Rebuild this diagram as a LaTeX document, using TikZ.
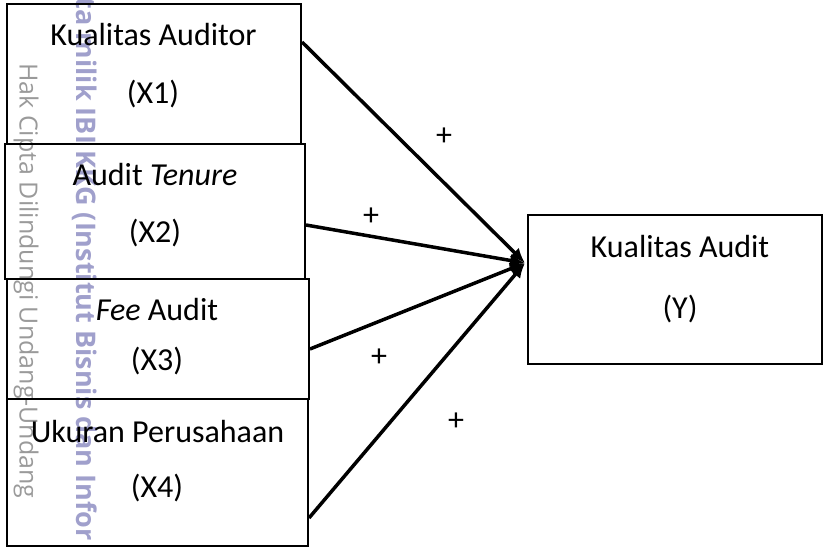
\documentclass[tikz,border=0pt]{standalone}
\usepackage{fontspec}
\setmainfont{Carlito}
\newfontfamily\wmfont{Open Sans}
\usetikzlibrary{arrows.meta}

\definecolor{wmgray}{HTML}{9A9A9A}
\definecolor{wmblue}{HTML}{A0A0CC}

\begin{document}
\begin{tikzpicture}[x=1pt,y=-1pt,
    varbox/.style={draw, line width=2pt, inner sep=0pt},
    lbl/.style={anchor=base, font=\fontsize{32}{38}\selectfont},
    arr/.style={line width=3.5pt, -{Latex[length=15pt,width=13pt]}},
    sign/.style={font=\fontsize{32}{38}\selectfont}]

        \useasboundingbox (0,0) rectangle (823,547);

        % Watermark
        \begin{scope}
            \clip (0,0) rectangle (823,547);
            \node[wmgray, rotate=-90, anchor=west, inner sep=0pt, font=\wmfont\fontsize{25}{30}\selectfont] (wmleft) at (26,63) {Hak Cipta Dilindungi Undang-Undang};
            \node[wmblue, rotate=-90, anchor=east, inner sep=0pt, font=\wmfont\bfseries\fontsize{27}{32}\selectfont] (wmright) at (84,541) {pta milik IBI KKG (Institut Bisnis dan Infor};
        \end{scope}

        % Independent variables
        \node[varbox, minimum width=294pt, minimum height=140pt] (x1) at (154,74) {};
        \node[varbox, minimum width=300pt, minimum height=135pt] (x2) at (155,211.5) {};
        \node[varbox, minimum width=302pt, minimum height=120pt] (x3) at (158,339) {};
        \node[varbox, minimum width=301pt, minimum height=147pt] (x4) at (157.5,472.5) {};

        \node[lbl] (x1name) at (153.5,45) {Kualitas Auditor};
        \node[lbl] (x1code) at (153,103) {(X1)};
        \node[lbl] (x2name) at (155,185) {Audit \textit{Tenure}};
        \node[lbl] (x2code) at (155,242) {(X2)};
        \node[lbl] (x3name) at (157,320) {\textit{Fee} Audit};
        \node[lbl] (x3code) at (157,370) {(X3)};
        \node[lbl] (x4name) at (157.5,442) {Ukuran Perusahaan};
        \node[lbl] (x4code) at (157,497) {(X4)};

        % Dependent variable
        \node[varbox, minimum width=294pt, minimum height=149pt] (y) at (675,289.5) {};
        \node[lbl] (yname) at (680,257) {Kualitas Audit};
        \node[lbl] (ycode) at (680,318) {(Y)};

        % Arrows
        \coordinate (hub) at (525,263);
        \draw[arr] (x1.east |- 0,42) -- (hub);
        \draw[arr] (x2.east |- 0,225) -- (hub);
        \draw[arr] (x3.east |- 0,349) -- (hub);
        \draw[arr] (x4.east |- 0,518) -- (hub);

        \node[sign] (s1) at (444,137) {+};
        \node[sign] (s2) at (371,217) {+};
        \node[sign] (s3) at (379,358) {+};
        \node[sign] (s4) at (456,422) {+};

\end{tikzpicture}
\end{document}
